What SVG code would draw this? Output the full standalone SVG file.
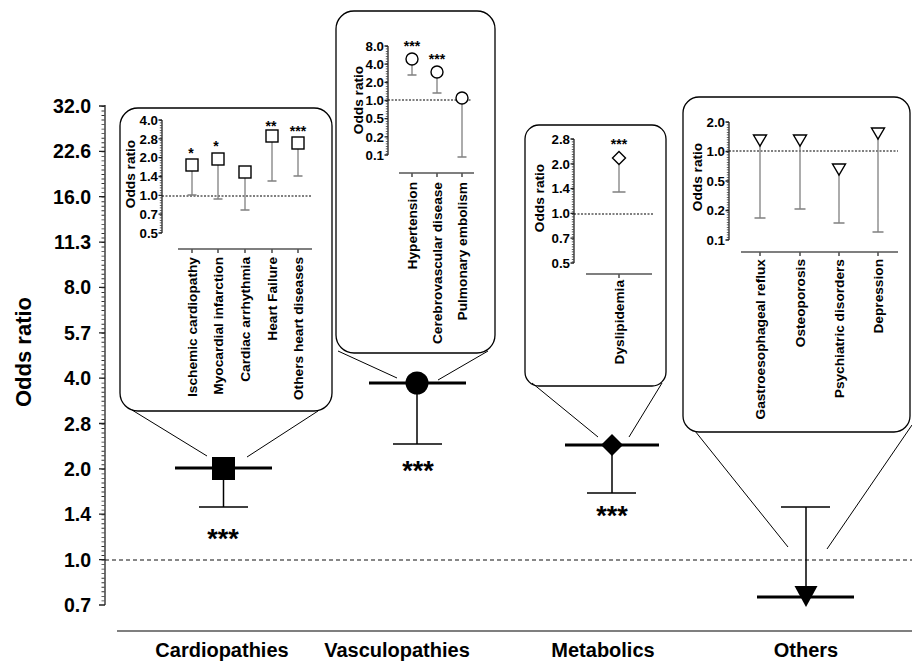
<svg xmlns="http://www.w3.org/2000/svg" width="912" height="663" viewBox="0 0 912 663">
<style>
text{font-family:"Liberation Sans",Arial,Helvetica,sans-serif;font-weight:bold;fill:#000}
.mt{font-size:19.5px;text-anchor:end}
.it{font-size:13.3px;text-anchor:end}
.il{font-size:13.7px;text-anchor:end}
.ylab{font-size:13.7px;text-anchor:middle}
.st{font-size:14px;text-anchor:middle}
.bst{font-size:27px;text-anchor:middle}
.cat{font-size:20px;text-anchor:middle}
.box{fill:none;stroke:#000;stroke-width:1.3}
.ax{stroke:#222;stroke-width:1.3;fill:none}
.xax{stroke:#555;stroke-width:1.6;fill:none}
.minor{stroke:#333;stroke-width:2;stroke-dasharray:0.8 1.7;fill:none}
.mminor{stroke:#333;stroke-width:3;stroke-dasharray:0.9 3.636;fill:none}
.dot{stroke:#000;stroke-width:1.2;stroke-dasharray:2 1.5;fill:none}
.eb{stroke:#808080;stroke-width:1.3;fill:none}
.open{fill:#fff;stroke:#000;stroke-width:1.4}
.bar{stroke:#000;stroke-width:3;fill:none}
.meb{stroke:#000;stroke-width:1.5;fill:none}
.conn{stroke:#000;stroke-width:1;fill:none}
</style>

<!-- Main axis -->
<g id="main-axis">
  <line class="ax" x1="105" y1="105" x2="105" y2="605"/>
  <line class="mminor" x1="103" y1="106" x2="103" y2="605"/>
  <path class="ax" d="M99 106H105M99 151.4H105M99 196.7H105M99 242.1H105M99 287.4H105M99 332.8H105M99 378.2H105M99 423.5H105M99 468.9H105M99 514.2H105M99 559.6H105M99 605H105"/>
  <text class="mt" x="91" y="113">32.0</text>
  <text class="mt" x="91" y="158.4">22.6</text>
  <text class="mt" x="91" y="203.7">16.0</text>
  <text class="mt" x="91" y="249.1">11.3</text>
  <text class="mt" x="91" y="294.4">8.0</text>
  <text class="mt" x="91" y="339.8">5.7</text>
  <text class="mt" x="91" y="385.2">4.0</text>
  <text class="mt" x="91" y="430.5">2.8</text>
  <text class="mt" x="91" y="475.9">2.0</text>
  <text class="mt" x="91" y="521.2">1.4</text>
  <text class="mt" x="91" y="566.6">1.0</text>
  <text class="mt" x="91" y="612">0.7</text>
  <text transform="translate(31,352) rotate(-90)" style="font-size:22px;text-anchor:middle">Odds ratio</text>
  <line x1="105" y1="560" x2="912" y2="560" stroke="#111" stroke-width="1.2" stroke-dasharray="4 3"/>
  <line class="xax" x1="117" y1="631" x2="912" y2="631"/>
  <text class="cat" x="222" y="657">Cardiopathies</text>
  <text class="cat" x="397" y="657">Vasculopathies</text>
  <text class="cat" x="603" y="657">Metabolics</text>
  <text class="cat" x="806" y="657">Others</text>
</g>

<!-- Connectors -->
<g id="connectors">
  <line class="conn" x1="132" y1="410" x2="207" y2="456"/>
  <line class="conn" x1="318" y1="411" x2="247" y2="457"/>
  <line class="conn" x1="338" y1="351" x2="397" y2="378"/>
  <line class="conn" x1="488" y1="351" x2="438" y2="380"/>
  <line class="conn" x1="532" y1="383" x2="598" y2="437"/>
  <line class="conn" x1="662" y1="383" x2="629" y2="437"/>
  <line class="conn" x1="695" y1="431" x2="788" y2="547"/>
  <line class="conn" x1="912" y1="425" x2="827" y2="549"/>
</g>

<!-- Main points -->
<g id="main-cardiopathies">
  <line class="meb" x1="223.5" y1="480" x2="223.5" y2="507"/>
  <line class="meb" x1="199" y1="507" x2="248" y2="507"/>
  <line class="bar" x1="175" y1="468" x2="272" y2="468"/>
  <rect x="212" y="457" width="23" height="23" fill="#000"/>
  <text class="bst" x="223" y="548">***</text>
</g>
<g id="main-vasculopathies">
  <line class="meb" x1="417" y1="383" x2="417" y2="444"/>
  <line class="meb" x1="393" y1="444" x2="442" y2="444"/>
  <line class="bar" x1="369" y1="383" x2="466" y2="383"/>
  <circle cx="417" cy="383" r="11.5" fill="#000"/>
  <text class="bst" x="418" y="480">***</text>
</g>
<g id="main-metabolics">
  <line class="meb" x1="612" y1="445" x2="612" y2="493"/>
  <line class="meb" x1="587" y1="493" x2="636" y2="493"/>
  <line class="bar" x1="565" y1="445" x2="659" y2="445"/>
  <polygon points="612,434 623,445 612,456 601,445" fill="#000"/>
  <text class="bst" x="612" y="525">***</text>
</g>
<g id="main-others">
  <line class="meb" x1="806" y1="597" x2="806" y2="507"/>
  <line class="meb" x1="781" y1="507" x2="830" y2="507"/>
  <line class="bar" x1="757" y1="597" x2="854" y2="597"/>
  <polygon points="794.5,586 817.5,586 806,607" fill="#000"/>
</g>

<!-- Inset 1: Cardiopathies -->
<g id="inset-cardiopathies">
  <rect class="box" x="120" y="108" width="212" height="303" rx="18"/>
  <line class="ax" x1="162" y1="120" x2="162" y2="233"/>
  <line class="minor" x1="160.8" y1="120" x2="160.8" y2="233"/>
  <path class="ax" d="M158.5 120H162M158.5 138.8H162M158.5 157.7H162M158.5 176.5H162M158.5 195.3H162M158.5 214.2H162M158.5 233H162"/>
  <text class="it" x="158" y="124.7">4.0</text>
  <text class="it" x="158" y="143.5">2.8</text>
  <text class="it" x="158" y="162.4">2.0</text>
  <text class="it" x="158" y="181.2">1.4</text>
  <text class="it" x="158" y="200">1.0</text>
  <text class="it" x="158" y="218.9">0.7</text>
  <text class="it" x="158" y="237.7">0.5</text>
  <text class="ylab" transform="translate(135,174) rotate(-90)">Odds ratio</text>
  <line class="dot" x1="162" y1="196" x2="312" y2="196"/>
  <path class="eb" d="M192 171V195M187.5 195H196.5M218 165V199M213.5 199H222.5M245 178V210M240.5 210H249.5M272 142V181M267.5 181H276.5M298 149V176M293.5 176H302.5"/>
  <rect class="open" x="186" y="159" width="12" height="12"/>
  <rect class="open" x="212" y="153" width="12" height="12"/>
  <rect class="open" x="239" y="166" width="12" height="12"/>
  <rect class="open" x="266" y="130" width="12" height="12"/>
  <rect class="open" x="292" y="137" width="12" height="12"/>
  <text class="st" x="191" y="158">*</text>
  <text class="st" x="216" y="151">*</text>
  <text class="st" x="271" y="131">**</text>
  <text class="st" x="298" y="136">***</text>
  <line class="xax" x1="178" y1="249" x2="312" y2="249"/>
  <path class="xax" d="M192 249V253M218 249V253M245 249V253M272 249V253M298 249V253"/>
  <text class="il" transform="translate(197,257) rotate(-90)">Ischemic cardiopathy</text>
  <text class="il" transform="translate(223,257) rotate(-90)">Myocardial infarction</text>
  <text class="il" transform="translate(250,257) rotate(-90)">Cardiac arrhythmia</text>
  <text class="il" transform="translate(277,257) rotate(-90)">Heart Failure</text>
  <text class="il" transform="translate(303,257) rotate(-90)">Others heart diseases</text>
</g>

<!-- Inset 2: Vasculopathies -->
<g id="inset-vasculopathies">
  <rect class="box" x="336" y="11" width="159" height="342" rx="18"/>
  <line class="ax" x1="388" y1="46" x2="388" y2="155"/>
  <line class="minor" x1="386.8" y1="46" x2="386.8" y2="155"/>
  <path class="ax" d="M384.5 46H388M384.5 64.2H388M384.5 82.3H388M384.5 100.5H388M384.5 118.7H388M384.5 136.8H388M384.5 155H388"/>
  <text class="it" x="384" y="50.7">8.0</text>
  <text class="it" x="384" y="68.9">4.0</text>
  <text class="it" x="384" y="87">2.0</text>
  <text class="it" x="384" y="105.2">1.0</text>
  <text class="it" x="384" y="123.4">0.5</text>
  <text class="it" x="384" y="141.5">0.2</text>
  <text class="it" x="384" y="159.7">0.1</text>
  <text class="ylab" transform="translate(363,100) rotate(-90)">Odds ratio</text>
  <line class="dot" x1="388" y1="100" x2="472" y2="100"/>
  <path class="eb" d="M412 65V75M407.5 75H416.5M437 78V93M432.5 93H441.5M462 104V157M457.5 157H466.5"/>
  <circle class="open" cx="412" cy="59" r="6"/>
  <circle class="open" cx="437" cy="72" r="6"/>
  <circle class="open" cx="462" cy="98" r="6"/>
  <text class="st" x="412" y="51">***</text>
  <text class="st" x="437" y="64">***</text>
  <line class="xax" x1="399" y1="173" x2="474" y2="173"/>
  <path class="xax" d="M412 173V177M437 173V177M462 173V177"/>
  <text class="il" transform="translate(417,182) rotate(-90)">Hypertension</text>
  <text class="il" transform="translate(442,182) rotate(-90)">Cerebrovascular disease</text>
  <text class="il" transform="translate(467,182) rotate(-90)">Pulmonary embolism</text>
</g>

<!-- Inset 3: Metabolics -->
<g id="inset-metabolics">
  <rect class="box" x="525" y="125" width="141" height="261" rx="14"/>
  <line class="ax" x1="574" y1="139" x2="574" y2="263"/>
  <line class="minor" x1="572.8" y1="139" x2="572.8" y2="263"/>
  <path class="ax" d="M570.5 139H574M570.5 163.8H574M570.5 188.6H574M570.5 213.4H574M570.5 238.2H574M570.5 263H574"/>
  <text class="it" x="570" y="143.7">2.8</text>
  <text class="it" x="570" y="168.5">2.0</text>
  <text class="it" x="570" y="193.3">1.4</text>
  <text class="it" x="570" y="218.1">1.0</text>
  <text class="it" x="570" y="242.9">0.7</text>
  <text class="it" x="570" y="267.7">0.5</text>
  <text class="ylab" transform="translate(544,198) rotate(-90)">Odds ratio</text>
  <line class="dot" x1="574" y1="214" x2="653" y2="214"/>
  <path class="eb" d="M619 165V192M612.5 192H625.5"/>
  <polygon class="open" points="619,151.5 625.5,158 619,164.5 612.5,158"/>
  <text class="st" x="619" y="149">***</text>
  <line class="xax" x1="586" y1="274" x2="652" y2="274"/>
  <path class="xax" d="M619 274V278"/>
  <text class="il" transform="translate(624,280) rotate(-90)">Dyslipidemia</text>
</g>

<!-- Inset 4: Others -->
<g id="inset-others">
  <rect class="box" x="683" y="97" width="227" height="335" rx="16"/>
  <line class="ax" x1="729" y1="122" x2="729" y2="240"/>
  <line class="minor" x1="727.8" y1="122" x2="727.8" y2="240"/>
  <path class="ax" d="M725.5 122H729M725.5 151.5H729M725.5 181H729M725.5 210.5H729M725.5 240H729"/>
  <text class="it" x="725" y="126.7">2.0</text>
  <text class="it" x="725" y="156.2">1.0</text>
  <text class="it" x="725" y="185.7">0.5</text>
  <text class="it" x="725" y="215.2">0.2</text>
  <text class="it" x="725" y="244.7">0.1</text>
  <text class="ylab" transform="translate(702,177) rotate(-90)">Odds ratio</text>
  <line class="dot" x1="729" y1="151" x2="898" y2="151"/>
  <path class="eb" d="M760 146V218M754.5 218H765.5M800 146V209M794.5 209H805.5M839 174V223M833.5 223H844.5M878 139V232M872.5 232H883.5"/>
  <polygon class="open" points="753.5,135 766.5,135 760,146"/>
  <polygon class="open" points="793.5,135 806.5,135 800,146"/>
  <polygon class="open" points="832.5,164 845.5,164 839,175"/>
  <polygon class="open" points="871.5,128 884.5,128 878,139"/>
  <line class="xax" x1="741" y1="252" x2="898" y2="252"/>
  <path class="xax" d="M760 252V256M800 252V256M839 252V256M878 252V256"/>
  <text class="il" transform="translate(765,259) rotate(-90)">Gastroesophageal reflux</text>
  <text class="il" transform="translate(805,259) rotate(-90)">Osteoporosis</text>
  <text class="il" transform="translate(844,259) rotate(-90)">Psychiatric disorders</text>
  <text class="il" transform="translate(883,259) rotate(-90)">Depression</text>
</g>
</svg>
